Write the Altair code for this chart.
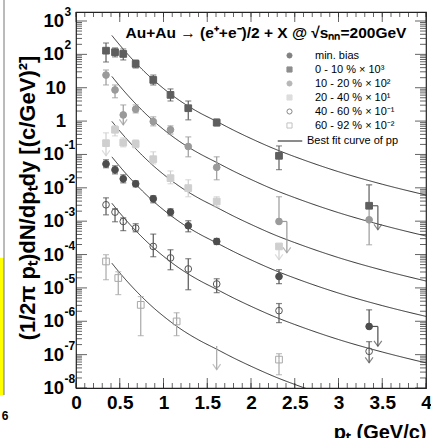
import altair as alt
import pandas as pd

# ---------------- data ----------------
series_names = ["min. bias", "\u00a00 - 10 % × 10³", "10 - 20 % × 10²",
                "20 - 40 % × 10¹", "40 - 60 % × 10⁻¹", "60 - 92 % × 10⁻²"]
series_shapes = ["circle", "square", "circle", "square", "circle", "square"]
series_fill = ["#4d4d4d", "#5e5e5e", "#9a9a9a", "#cfcfcf", "transparent", "transparent"]
series_stroke = ["#4d4d4d", "#5e5e5e", "#9a9a9a", "#cfcfcf", "#555555", "#a8a8a8"]

mb_pt = [0.343, 0.446, 0.54, 0.682, 0.883, 1.08, 1.283, 1.608, 2.32, 3.35]
mb_val = [0.052, 0.0346, 0.0186, 0.0132, 0.0047, 0.00187, 0.00073, 0.000247, 2.2e-5, 7e-7]
mb_hi = [0.069, 0.0456, 0.0245, 0.0162, 0.00576, 0.00235, 0.00103, 3.03e-4, 3.5e-5, 2.2e-6]
mb_lo = [0.040, 0.0262, 0.0141, 0.0107, 0.00356, 0.00145, 0.00048, 2.0e-4, 1.34e-5, 7e-7]

c010_pt = [0.343, 0.446, 0.54, 0.682, 0.883, 1.08, 1.283, 1.608, 2.32, 3.35]
c010_val = [129, 116, 103, 52, 17.1, 6.1, 2.43, 0.90, 0.091, 0.0029]
c010_hi = [219, 156, 145, 68, 24, 9.2, 4.0, 1.16, 0.18, 0.0123]
c010_lo = [59, 84, 68, 39, 12.1, 4.0, 1.09, 0.72, 0.035, 0.0029]

c1020_pt = [0.343, 0.446, 0.54, 0.682, 0.883, 1.08, 1.283, 1.608, 2.32, 3.35]
c1020_val = [24, 8.6, 1.53, 2.27, 0.97, 0.55, 0.173, 0.041, 0.00098, 0.0011]
c1020_hi = [34, 12.1, 3.05, 3.05, 1.34, 0.72, 0.336, 0.085, 0.0054, 0.0123]
c1020_lo = [12.1, 5.0, 1.53, 1.76, 0.72, 0.41, 0.085, 0.0174, 0.00098, 1.96e-4]

c2040_pt = [0.343, 0.446, 0.54, 0.682, 0.883, 1.08, 1.283, 1.608, 2.32]
c2040_val = [0.218, 0.55, 0.227, 0.207, 0.072, 0.0195, 0.0098, 0.0039, 1.75e-4]
c2040_hi = [0.444, 0.72, 0.314, 0.273, 0.12, 0.032, 0.0174, 0.0054, 1.75e-4]
c2040_lo = [0.218, 0.36, 0.169, 0.158, 0.052, 0.0132, 0.0054, 0.0027, 1.75e-4]

c4060_pt = [0.343, 0.446, 0.54, 0.682, 0.883, 1.08, 1.283, 1.608, 2.32, 3.35]
c4060_val = [0.0031, 0.00187, 0.00098, 0.00062, 0.000175, 7.9e-5, 3.7e-5, 1.31e-5, 2.08e-6, 1.26e-7]
c4060_hi = [0.005, 0.00235, 0.00126, 8.4e-4, 4.1e-4, 1.39e-4, 7.5e-5, 1.88e-5, 3.4e-6, 2.45e-7]
c4060_lo = [0.00155, 0.00096, 5.2e-4, 4.8e-4, 8.6e-5, 3.5e-5, 8.8e-6, 7.2e-6, 9.1e-7, 1.26e-7]

c6092_pt = [0.343, 0.483, 0.74, 1.15, 2.32]
c6092_val = [6.2e-5, 1.98e-5, 3.1e-6, 9.9e-7, 7.1e-8]
c6092_hi = [9.9e-5, 3.05e-5, 5.5e-6, 1.8e-6, 1.07e-7]
c6092_lo = [1.76e-5, 6.3e-6, 3.7e-7, 3.7e-7, 2.5e-8]

# upper limits (arrows)
ul_series = [1, 2, 2, 3, 3, 0, 4, 5]
ul_pt = [3.35, 0.54, 2.32, 0.343, 2.32, 3.35, 3.35, 1.608]
ul_from = [0.0029, 1.53, 0.00098, 0.218, 1.75e-4, 7e-7, 1.26e-7, 1.8e-7]
ul_arrow_pt = [3.45, 0.54, 2.41, 0.343, 2.32, 3.45, 3.35, 1.608]
ul_tip = [5.5e-4, 0.77, 1.13e-4, 0.091, 7.0e-5, 1.78e-7, 5.7e-8, 3.56e-8]

# best fit curves of pp (scaled)
fit_pt = [0.41, 0.5, 0.6, 0.7, 0.8, 0.9, 1.0, 1.2, 1.4, 1.6, 1.8, 2.0, 2.3, 2.5, 3.0, 3.5, 4.0]
fit_0_10 = [368, 190, 95, 49.9, 27.4, 15.8, 9.5, 3.87, 1.85, 1.0, 0.535, 0.30, 0.136, 0.0857, 0.0304, 0.0128, 0.00607]
fit_10_20 = [21.8, 11.2, 5.62, 2.95, 1.62, 0.933, 0.562, 0.229, 0.110, 0.0589, 0.0316, 0.0178, 0.00804, 0.00507, 0.0018, 0.000759, 0.000359]
fit_20_40 = [0.98, 0.505, 0.253, 0.133, 0.0730, 0.0420, 0.0253, 0.0103, 0.00493, 0.00265, 0.00142, 0.0008, 0.000361, 0.000228, 8.09e-5, 3.41e-5, 1.61e-5]
fit_mb = [0.0847, 0.0437, 0.0219, 0.0115, 0.00631, 0.00363, 0.00219, 0.000891, 0.000427, 0.000229, 0.000123, 6.92e-5, 3.13e-5, 1.97e-5, 7.0e-6, 2.95e-6, 1.40e-6]
fit_40_60 = [0.00344, 0.00177, 0.000887, 0.000466, 0.000256, 0.000147, 8.87e-5, 3.61e-5, 1.73e-5, 9.29e-6, 4.99e-6, 2.81e-6, 1.27e-6, 8.0e-7, 2.84e-7, 1.20e-7, 5.66e-8]
fit_60_92 = [5.5e-5, 2.83e-5, 1.42e-5, 7.45e-6, 4.09e-6, 2.35e-6, 1.42e-6, 5.78e-7, 2.77e-7, 1.49e-7, 7.98e-8, 4.49e-8, 2.03e-8, 1.28e-8, 4.54e-9]
fit_label = "Best fit curve of pp"

x_major = [0, 0.5, 1, 1.5, 2, 2.5, 3, 3.5, 4]
x_minor = [i / 10 for i in range(41)]
y_major = [10.0 ** e for e in range(-8, 4)]
y_minor = [m * 10.0 ** e for e in range(-8, 4) for m in range(2, 10) if m * 10.0 ** e < 1860]
ylab_exp_vals = [1e-8, 1e-7, 1e-6, 1e-5, 1e-4, 1e-3, 1e-2, 1e-1, 1e2, 1e3]
ylab_exp_text = ["-8", "-7", "-6", "-5", "-4", "-3", "-2", "-1", "2", "3"]
ylab_plain_vals = [1, 10]
ylab_plain_text = ["1", "10"]

title_text = "Au+Au → (e⁺+e⁻)/2 + X @ √sₙₙ=200GeV"
ytitle_text = "(1/2π pₜ)dN/dpₜdy [(c/GeV)²]"
xtitle_text = "pₜ (GeV/c)"

# ---------------- tables ----------------
groups = [(mb_pt, mb_val, mb_hi, mb_lo), (c010_pt, c010_val, c010_hi, c010_lo),
          (c1020_pt, c1020_val, c1020_hi, c1020_lo), (c2040_pt, c2040_val, c2040_hi, c2040_lo),
          (c4060_pt, c4060_val, c4060_hi, c4060_lo), (c6092_pt, c6092_val, c6092_hi, c6092_lo)]
rows = []
for i, (p, v, h, l) in enumerate(groups):
    for a, b, c, d in zip(p, v, h, l):
        rows.append({"series": series_names[i], "col": series_stroke[i], "pt": a, "v": b, "hi": c, "lo": d})
pts_df = pd.DataFrame(rows)

caps = []
for r in rows:
    if r["hi"] > r["v"] * 1.01:
        caps.append({"pt": r["pt"], "v": r["hi"], "col": r["col"]})
    if r["lo"] < r["v"] * 0.99:
        caps.append({"pt": r["pt"], "v": r["lo"], "col": r["col"]})
caps_df = pd.DataFrame(caps)

ul_df = pd.DataFrame({"col": [series_stroke[i] for i in ul_series], "pt": ul_pt, "v": ul_from,
                      "apt": ul_arrow_pt, "tip": ul_tip})

fits = [fit_0_10, fit_10_20, fit_20_40, fit_mb, fit_40_60, fit_60_92]
crows = []
for k, f in enumerate(fits):
    for a, b in zip(fit_pt, f):
        crows.append({"curve": k, "pt": a, "v": b, "fit": fit_label})
curve_df = pd.DataFrame(crows)

W, H = 350, 376
FONT = "Liberation Sans"
xs = alt.Scale(domain=[0, 4], nice=False, zero=False)
ys = alt.Scale(type="log", domain=[1e-8, 1860], nice=False)
xaxis = alt.Axis(values=x_major, format="~g", labelFont=FONT, labelFontSize=19, labelFontWeight="bold",
                 labelColor="black", ticks=False, domain=False, grid=False, labelPadding=5,
                 labelFlush=False, title=xtitle_text, titleFont=FONT, titleFontSize=20,
                 titleFontWeight="bold", titleAnchor="end", titlePadding=10, titleColor="black")
X = alt.X("pt:Q", scale=xs, axis=xaxis)
XA = alt.X("apt:Q", scale=xs, axis=xaxis)
Y = alt.Y("v:Q", scale=ys, axis=None)

curves = alt.Chart(curve_df).mark_line(color="black", strokeWidth=0.8, clip=True, interpolate="monotone").encode(
    x=X, y=Y, detail="curve:N",
    strokeDash=alt.StrokeDash("fit:N", scale=alt.Scale(domain=[fit_label], range=[[1, 0]]),
                              legend=alt.Legend(orient="none", legendX=201, legendY=116, title=None,
                                                symbolType="stroke", symbolSize=600,
                                                symbolStrokeColor="black", symbolStrokeWidth=1,
                                                labelFont=FONT, labelFontSize=11, labelColor="black",
                                                labelOffset=4, padding=0)))

err = alt.Chart(pts_df).mark_rule(strokeWidth=1.2).encode(
    x=X, y=Y, y2="hi:Q", color=alt.Color("col:N", scale=None))
err2 = alt.Chart(pts_df).mark_rule(strokeWidth=1.2).encode(
    x=X, y=Y, y2="lo:Q", color=alt.Color("col:N", scale=None))
capm = alt.Chart(caps_df).mark_tick(orient="horizontal", size=6, thickness=1.2).encode(
    x=X, y=Y, color=alt.Color("col:N", scale=None))

ul_stem = alt.Chart(ul_df).mark_rule(strokeWidth=1.2).encode(
    x=XA, y=Y, y2="tip:Q", color=alt.Color("col:N", scale=None))
ul_brk = alt.Chart(ul_df).mark_rule(strokeWidth=1.2).encode(
    x=X, x2="apt:Q", y=Y, color=alt.Color("col:N", scale=None))
ul_head = alt.Chart(ul_df).mark_point(shape="M-1,-1.4L0,0L1,-1.4", size=60, filled=False, strokeWidth=1.2).encode(
    x=XA, y=alt.Y("tip:Q", scale=ys, axis=None),
    stroke=alt.Stroke("col:N", scale=None))

leg = alt.Legend(orient="none", legendX=208, legendY=38, title=None, labelFont=FONT, labelFontSize=11,
                 labelColor="black", symbolSize=26, labelOffset=20, rowPadding=2, symbolStrokeWidth=1,
                 padding=0)
markers = alt.Chart(pts_df).mark_point(filled=True, size=45, strokeWidth=1, opacity=1).encode(
    x=X, y=Y,
    shape=alt.Shape("series:N", scale=alt.Scale(domain=series_names, range=series_shapes), legend=leg),
    fill=alt.Fill("series:N", scale=alt.Scale(domain=series_names, range=series_fill), legend=leg),
    stroke=alt.Stroke("series:N", scale=alt.Scale(domain=series_names, range=series_stroke), legend=leg))

# frame ticks (inside, ROOT style)
xmaj_df = pd.DataFrame({"pt": x_major})
xmin_df = pd.DataFrame({"pt": x_minor})
ymaj_df = pd.DataFrame({"v": y_major})
ymin_df = pd.DataFrame({"v": y_minor})
tk = dict(color="#222", thickness=1)
ticks = [
    alt.Chart(xmaj_df).mark_tick(orient="vertical", size=10, **tk).encode(x=X, y=alt.value(H - 5)),
    alt.Chart(xmaj_df).mark_tick(orient="vertical", size=10, **tk).encode(x=X, y=alt.value(5)),
    alt.Chart(xmin_df).mark_tick(orient="vertical", size=5, **tk).encode(x=X, y=alt.value(H - 2.5)),
    alt.Chart(xmin_df).mark_tick(orient="vertical", size=5, **tk).encode(x=X, y=alt.value(2.5)),
    alt.Chart(ymaj_df).mark_tick(orient="horizontal", size=11, **tk).encode(y=Y, x=alt.value(5.5)),
    alt.Chart(ymaj_df).mark_tick(orient="horizontal", size=11, **tk).encode(y=Y, x=alt.value(W - 5.5)),
    alt.Chart(ymin_df).mark_tick(orient="horizontal", size=6, **tk).encode(y=Y, x=alt.value(3)),
    alt.Chart(ymin_df).mark_tick(orient="horizontal", size=6, **tk).encode(y=Y, x=alt.value(W - 3)),
]

ylab_e = pd.DataFrame({"v": ylab_exp_vals, "e": ylab_exp_text, "b": ["10"] * len(ylab_exp_vals)})
ylab_p = pd.DataFrame({"v": ylab_plain_vals, "b": ylab_plain_text})
ylabels = [
    alt.Chart(ylab_e).mark_text(align="right", baseline="middle", font=FONT, fontSize=18.5, fontWeight="bold",
                                color="black").encode(y=Y, x=alt.value(-12), text="b:N"),
    alt.Chart(ylab_e).mark_text(align="left", baseline="middle", font=FONT, fontSize=12, fontWeight="bold",
                                color="black", dy=-9).encode(y=Y, x=alt.value(-11.5), text="e:N"),
    alt.Chart(ylab_p).mark_text(align="right", baseline="middle", font=FONT, fontSize=18.5, fontWeight="bold",
                                color="black").encode(y=Y, x=alt.value(-10), text="b:N"),
]

one = pd.DataFrame({"t": [title_text], "y": [ytitle_text], "s": ["6"]})
title = alt.Chart(one).mark_text(align="center", baseline="middle", font=FONT, fontSize=15.5, fontWeight="bold",
                                 color="black").encode(text="t:N", x=alt.value(190), y=alt.value(21))
ytitle = alt.Chart(one).mark_text(align="center", baseline="middle", font=FONT, fontSize=22, fontWeight="bold",
                                  color="black", angle=270).encode(text="y:N", x=alt.value(-48), y=alt.value(186))

# cropped neighbour figure at far left
deco_rect = alt.Chart(one).mark_rect(color="#ffff00").encode(
    x=alt.value(-76), x2=alt.value(-72), y=alt.value(246), y2=alt.value(383))
deco_line = alt.Chart(one).mark_rule(color="#777", strokeWidth=1).encode(
    x=alt.value(-72), y=alt.value(-12), y2=alt.value(383))
deco_text = alt.Chart(one).mark_text(font=FONT, fontSize=12, fontWeight="bold", color="black").encode(
    text="s:N", x=alt.value(-71), y=alt.value(404))

chart = alt.layer(
    curves, err, err2, capm, ul_brk, ul_stem, ul_head, markers, *ticks, *ylabels, title, ytitle,
    deco_rect, deco_line, deco_text,
).properties(
    width=W, height=H,
    padding={"left": 76, "top": 12, "right": 5, "bottom": 50},
    autosize=alt.AutoSizeParams(type="none"),
).configure_view(stroke="#222", strokeWidth=1.2)

chart.save("out.html", embed_options={"renderer": "svg", "actions": False})
